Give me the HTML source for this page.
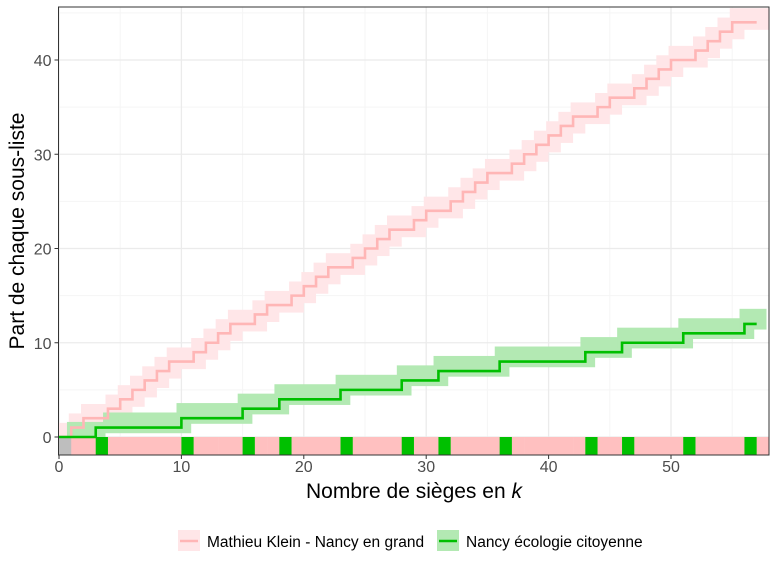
<!DOCTYPE html>
<html><head><meta charset="utf-8"><style>body{margin:0;background:#fff}</style></head>
<body>
<svg id="s" width="776" height="567" xmlns="http://www.w3.org/2000/svg" font-family="Liberation Sans, sans-serif"></svg>
<script>
const X=k=>59+k*12.24, Y=v=>437-v*9.425;
const L=58.5,R=769,T=7,B=455;
let h='';
h+=`<defs><clipPath id="c"><rect x="${L}" y="${T}" width="${R-L}" height="${B-T}"/></clipPath></defs>`;
h+=`<rect x="${L}" y="${T}" width="${R-L}" height="${B-T}" fill="#fff"/>`;
for(let k=5;k<=55;k+=10)h+=`<line x1="${X(k)}" x2="${X(k)}" y1="${T}" y2="${B}" stroke="#f5f5f5" stroke-width="1"/>`;
for(let v=5;v<=45;v+=10)h+=`<line y1="${Y(v)}" y2="${Y(v)}" x1="${L}" x2="${R}" stroke="#f5f5f5" stroke-width="1"/>`;
for(let k=0;k<=50;k+=10)h+=`<line x1="${X(k)}" x2="${X(k)}" y1="${T}" y2="${B}" stroke="#ebebeb" stroke-width="1.3"/>`;
for(let v=0;v<=40;v+=10)h+=`<line y1="${Y(v)}" y2="${Y(v)}" x1="${L}" x2="${R}" stroke="#ebebeb" stroke-width="1.3"/>`;
const G=[3,10,15,18,23,28,31,36,43,46,51,56];
function segs(isMine){let out=[],c=0,start=0;for(let i=0;i<57;i++){if(isMine(i)){out.push([start,i,c]);c++;start=i;}}out.push([start,57,c]);return out;}
const gs=segs(i=>G.includes(i)), rs=segs(i=>i>0&&!G.includes(i));
let g='<g clip-path="url(#c)">';
rs.forEach(([a,b,v])=>{const s=Math.max(a-0.2,0);g+=`<rect x="${X(s)}" y="${Y(v+1.5)}" width="${X(b+1)-X(s)}" height="${Y(v-0.8)-Y(v+1.5)}" fill="#ffe6e8"/>`;});
gs.forEach(([a,b,v],j)=>{const s=j==0?0.65:(j==1?a+0.6:a-0.4);g+=`<rect x="${X(s)}" y="${Y(v+1.6)}" width="${X(b+0.8)-X(s)}" height="${Y(v-0.6)-Y(v+1.6)}" fill="#b3e9b3"/>`;});
for(let i=0;i<58;i++){const c=i==0?'#bebebe':G.includes(i)?'#00c000':'#ffc0c0';g+=`<rect x="${X(i)}" y="${Y(0)}" width="${X(i+1)-X(i)+0.3}" height="${B-Y(0)}" fill="${c}"/>`;}
function path(sg){let d='';sg.forEach(([a,b,v],j)=>{d+=(j?'L':'M')+X(a)+','+Y(v)+'L'+X(b)+','+Y(v);});return d;}
g+=`<path d="${path(rs)}" fill="none" stroke="#ffb6b6" stroke-width="2.6"/>`;
g+=`<path d="${path(gs)}" fill="none" stroke="#00bf00" stroke-width="2.6"/>`;
g+='</g>';
h+=g;
h+=`<rect x="${L}" y="${T}" width="${R-L}" height="${B-T}" fill="none" stroke="#333" stroke-width="1"/>`;
for(let k=0;k<=50;k+=10){h+=`<line x1="${X(k)}" x2="${X(k)}" y1="${B}" y2="${B+4}" stroke="#333"/><text x="${X(k)}" y="472" font-size="16" fill="#4d4d4d" text-anchor="middle">${k}</text>`;}
for(let v=0;v<=40;v+=10){h+=`<line x1="${L-4}" x2="${L}" y1="${Y(v)}" y2="${Y(v)}" stroke="#333"/><text x="${L-7}" y="${Y(v)+6}" font-size="16" fill="#4d4d4d" text-anchor="end">${v}</text>`;}
h+=`<text x="414" y="498" font-size="21" text-anchor="middle">Nombre de sièges en <tspan font-style="italic">k</tspan></text>`;
h+=`<text transform="translate(24,231) rotate(-90)" font-size="21" text-anchor="middle">Part de chaque sous-liste</text>`;
h+=`<rect x="178" y="530" width="22" height="21" fill="#ffe6e8"/><line x1="180" x2="198" y1="541" y2="541" stroke="#ffb6b6" stroke-width="2.6"/><text x="207" y="547" font-size="15.5">Mathieu Klein - Nancy en grand</text>`;
h+=`<rect x="437" y="530" width="22" height="21" fill="#b3e9b3"/><line x1="439" x2="457" y1="541" y2="541" stroke="#00bf00" stroke-width="2.6"/><text x="466" y="547" font-size="15.5">Nancy écologie citoyenne</text>`;
document.getElementById('s').innerHTML=h;
</script>
</body></html>
